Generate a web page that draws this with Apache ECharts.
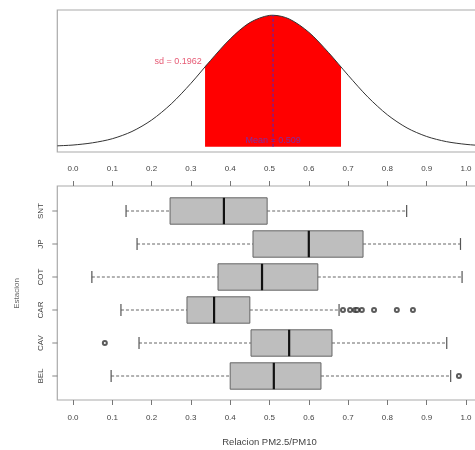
<!DOCTYPE html>
<html>
<head>
<meta charset="utf-8">
<script src="https://cdn.jsdelivr.net/npm/echarts@6/dist/echarts.min.js"></script>
<style>html,body{margin:0;padding:0;background:#fff}#c{width:475px;height:450px}</style>
</head>
<body>
<div id="c"></div>
<script>
// ---- data ----
const categories = ['BEL', 'CAV', 'CAR', 'COT', 'JP', 'SNT'];
const whiskerLow = [0.097, 0.168, 0.122, 0.048, 0.163, 0.135];
const q1 = [0.400, 0.453, 0.290, 0.369, 0.458, 0.247];
const median = [0.511, 0.550, 0.359, 0.481, 0.600, 0.384];
const q3 = [0.631, 0.659, 0.450, 0.623, 0.738, 0.494];
const whiskerHigh = [0.961, 0.951, 0.677, 0.990, 0.986, 0.849];
const outliersBEL = [0.982];
const outliersCAV = [0.081];
const outliersCAR = [0.687, 0.705, 0.718, 0.723, 0.735, 0.766, 0.824, 0.865];

// density curve (relative height)
const curveX = [-0.04, 0.00, 0.05, 0.10, 0.15, 0.20, 0.25, 0.30, 0.35, 0.40, 0.45, 0.50, 0.509, 0.55, 0.60, 0.65, 0.70, 0.75, 0.80, 0.85, 0.90, 0.95, 1.00, 1.04];
const curveY = [0.007, 0.013, 0.030, 0.061, 0.116, 0.203, 0.326, 0.482, 0.656, 0.820, 0.944, 0.999, 1.000, 0.972, 0.871, 0.717, 0.544, 0.379, 0.243, 0.143, 0.078, 0.039, 0.018, 0.009];
const shadeX = [0.336, 0.35, 0.40, 0.45, 0.50, 0.509, 0.55, 0.60, 0.65, 0.682];
const shadeY = [0.610, 0.656, 0.820, 0.944, 0.999, 1.000, 0.972, 0.871, 0.717, 0.607];
const meanValue = 0.509;
const sdLabel = 'sd = 0.1962';
const meanLabel = 'Mean = 0.509';
const xTicks = [0.0, 0.1, 0.2, 0.3, 0.4, 0.5, 0.6, 0.7, 0.8, 0.9, 1.0];

// ---- build ----
const FONT = 'Liberation Sans';
const boxData = categories.map((c, i) => [i, whiskerLow[i], q1[i], median[i], q3[i], whiskerHigh[i]]);
const outlierData = []
  .concat(outliersBEL.map(v => [v, categories.indexOf('BEL')]))
  .concat(outliersCAV.map(v => [v, categories.indexOf('CAV')]))
  .concat(outliersCAR.map(v => [v, categories.indexOf('CAR')]));

const chart = echarts.init(document.getElementById('c'), null, {renderer: 'canvas'});

const tickAxis = (pos, off) => ({
  gridIndex: 2, type: 'value', position: pos, offset: off,
  min: 0, max: 1, interval: 0.1,
  axisLine: {show: false},
  axisTick: {show: true, length: 5, lineStyle: {color: '#777'}},
  axisLabel: {fontSize: 8, color: '#444', fontFamily: FONT, margin: 13,
    formatter: v => xTicks.some(t => Math.abs(t - v) < 1e-6) ? v.toFixed(1) : ''},
  splitLine: {show: false}
});

const bottomAxis = tickAxis('bottom', 7.5);
bottomAxis.axisLabel.margin = 14;
bottomAxis.name = 'Relacion PM2.5/PM10';
bottomAxis.nameLocation = 'middle';
bottomAxis.nameGap = 37;
bottomAxis.nameTextStyle = {fontSize: 9.5, color: '#444', fontFamily: FONT};

const G = {outerBoundsMode: 'none', containLabel: false};

chart.setOption({
  animation: false,
  grid: [
    Object.assign({left: 57.3, top: 10, width: 430, height: 142, show: true, borderColor: '#aaa', borderWidth: 1.2}, G),
    Object.assign({left: 57.3, top: 186, width: 430, height: 214, show: true, borderColor: '#aaa', borderWidth: 1.2}, G),
    Object.assign({left: 73, top: 194.5, width: 393, height: 198, show: false}, G),
    Object.assign({left: 57.3, top: 10, width: 424.4, height: 142, show: false}, G),
    Object.assign({left: 52.3, top: 194.5, width: 400, height: 198, show: false}, G)
  ],
  xAxis: [
    {gridIndex: 0, type: 'value', min: 0, max: 1, show: false},
    {gridIndex: 1, type: 'value', min: 0, max: 1, show: false},
    tickAxis('top', 8.5),
    bottomAxis,
    {gridIndex: 3, type: 'value', min: -0.04, max: 1.04, show: false},
    {gridIndex: 4, type: 'value', min: 0, max: 1, show: false}
  ],
  yAxis: [
    {gridIndex: 0, type: 'value', min: 0, max: 1, show: false},
    {gridIndex: 1, type: 'value', min: 0, max: 1, show: false},
    {gridIndex: 2, type: 'category', data: categories, show: false},
    {gridIndex: 3, type: 'value', min: -0.04, max: 1.04, show: false},
    {gridIndex: 4, type: 'category', data: categories, z: 10, position: 'left',
      axisLine: {show: false},
      axisTick: {show: false},
      axisLabel: {rotate: 90, fontSize: 8, color: '#444', fontFamily: FONT, margin: 8},
      name: 'Estacion', nameLocation: 'middle', nameGap: 32, nameRotate: 90,
      nameTextStyle: {fontSize: 8, color: '#666', fontFamily: FONT},
      splitLine: {show: false}}
  ],
  series: [
    {type: 'line', xAxisIndex: 4, yAxisIndex: 3, data: shadeX.map((x, i) => [x, shadeY[i]]),
      smooth: 0.3, symbol: 'none', lineStyle: {width: 0},
      areaStyle: {color: '#ff0000', opacity: 1, origin: 0}, z: 2},
    {type: 'line', xAxisIndex: 4, yAxisIndex: 3, data: curveX.map((x, i) => [x, curveY[i]]),
      smooth: 0.3, symbol: 'none', lineStyle: {width: 1, color: '#333'}, z: 3},
    {type: 'line', xAxisIndex: 4, yAxisIndex: 3, data: [[meanValue, 0], [meanValue, 1]],
      symbol: 'none', lineStyle: {width: 1, color: '#3a2bd0', type: [3, 2]}, z: 4},
    {type: 'scatter', xAxisIndex: 4, yAxisIndex: 3, data: [[0.33, 0.645]], symbolSize: 0, z: 5,
      label: {show: true, position: 'left', distance: 1, formatter: sdLabel, fontSize: 9, color: '#e03050', fontFamily: FONT}},
    {type: 'scatter', xAxisIndex: 4, yAxisIndex: 3, data: [[meanValue, 0.05]], symbolSize: 0, z: 5,
      label: {show: true, position: 'inside', formatter: meanLabel, fontSize: 9, color: '#5a3ad0', fontFamily: FONT}},
    // category tick marks on the left frame edge
    {type: 'scatter', xAxisIndex: 5, yAxisIndex: 4, data: categories.map((c, i) => [0, i]),
      symbol: 'rect', symbolSize: [5, 1], symbolOffset: [2.5, 0], silent: true,
      itemStyle: {color: '#666'}, z: 6},
    {type: 'custom', xAxisIndex: 2, yAxisIndex: 2, data: boxData,
      encode: {x: [1, 2, 3, 4, 5], y: 0}, z: 3,
      renderItem: function (params, api) {
        const cat = api.value(0);
        const pLow = api.coord([api.value(1), cat]);
        const pQ1 = api.coord([api.value(2), cat]);
        const pMed = api.coord([api.value(3), cat]);
        const pQ3 = api.coord([api.value(4), cat]);
        const pHigh = api.coord([api.value(5), cat]);
        const band = api.size([0, 1])[1];
        const h = band * 0.8, sh = h * 0.45;
        const y = pMed[1];
        const ws = {stroke: '#666', lineWidth: 1, lineDash: [3, 2]};
        const ss = {stroke: '#555', lineWidth: 1.2};
        return {type: 'group', children: [
          {type: 'line', shape: {x1: pLow[0], y1: y, x2: pQ1[0], y2: y}, style: ws},
          {type: 'line', shape: {x1: pQ3[0], y1: y, x2: pHigh[0], y2: y}, style: ws},
          {type: 'line', shape: {x1: pLow[0], y1: y - sh / 2, x2: pLow[0], y2: y + sh / 2}, style: ss},
          {type: 'line', shape: {x1: pHigh[0], y1: y - sh / 2, x2: pHigh[0], y2: y + sh / 2}, style: ss},
          {type: 'rect', shape: {x: pQ1[0], y: y - h / 2, width: pQ3[0] - pQ1[0], height: h},
            style: {fill: '#bebebe', stroke: '#666', lineWidth: 1}},
          {type: 'line', shape: {x1: pMed[0], y1: y - h / 2, x2: pMed[0], y2: y + h / 2},
            style: {stroke: '#111', lineWidth: 2.2}}
        ]};
      }},
    {type: 'scatter', xAxisIndex: 2, yAxisIndex: 2, data: outlierData,
      symbol: 'emptyCircle', symbolSize: 4,
      itemStyle: {color: '#333', borderColor: '#333', borderWidth: 1}, z: 4}
  ]
});
</script>
</body>
</html>
